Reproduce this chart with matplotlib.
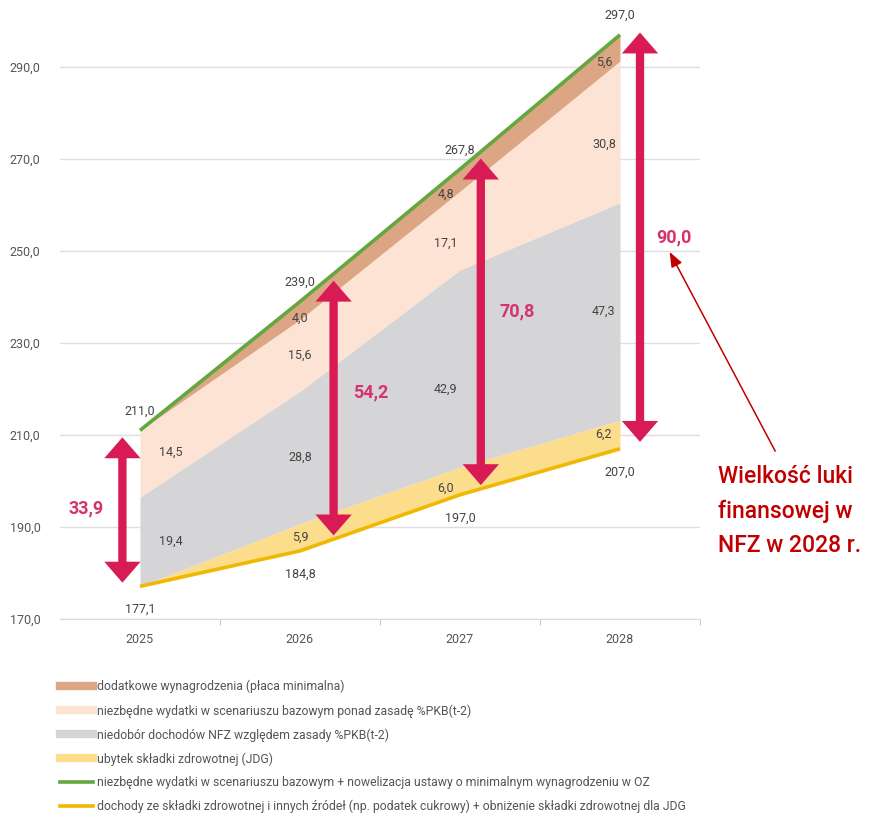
import matplotlib
matplotlib.use("Agg")
import matplotlib.pyplot as plt
import numpy as np
from matplotlib.lines import Line2D

plt.rcParams['font.family'] = ['Roboto', 'DejaVu Sans']

# ---- data ----
years = [2025, 2026, 2027, 2028]
revenue = [177.1, 184.8, 197.0, 207.0]          # yellow line
jdg_loss = [0.0, 5.9, 6.0, 6.2]                  # yellow band
deficit = [19.4, 28.8, 42.9, 47.3]               # grey band
above_rule = [14.5, 15.6, 17.1, 30.8]            # peach band
min_wage = [0.0, 4.0, 4.8, 5.6]                  # brown band
expenditure = [211.0, 239.0, 267.8, 297.0]       # green line
gap = [33.9, 54.2, 70.8, 90.0]
y_ticks = [170, 190, 210, 230, 250, 270, 290]
legend_labels = [
    "dodatkowe wynagrodzenia (płaca minimalna)",
    "niezbędne wydatki w scenariuszu bazowym ponad zasadę %PKB(t-2)",
    "niedobór dochodów NFZ względem zasady %PKB(t-2)",
    "ubytek składki zdrowotnej (JDG)",
    "niezbędne wydatki w scenariuszu bazowym + nowelizacja ustawy o minimalnym wynagrodzeniu w OZ",
    "dochody ze składki zdrowotnej i innych źródeł (np. podatek cukrowy) + obniżenie składki zdrowotnej dla JDG",
]
note = "Wielkość luki\nfinansowej w\nNFZ w 2028 r."

# ---- styles ----
c_brown = "#dca584"
c_peach = "#fde3d3"
c_grey = "#d5d4d7"
c_yellow_fill = "#fbdd8c"
c_green = "#62a83e"
c_yellow = "#f0b800"
c_arrow = "#d81b55"
c_gaplabel = "#d6336c"
c_note = "#c00000"
c_text = "#555555"

fig = plt.figure(figsize=(8.7, 8.17), dpi=100)
ax = fig.add_axes([60/870, (817-619)/817, 640/870, (619-21)/817])

x = np.array(years, dtype=float)
rev = np.array(revenue)
b1 = rev + np.array(jdg_loss)
b2 = b1 + np.array(deficit)
b3 = b2 + np.array(above_rule)
b4 = b3 + np.array(min_wage)

ax.fill_between(x, rev, b1, color=c_yellow_fill, lw=0, zorder=2)
ax.fill_between(x, b1, b2, color=c_grey, lw=0, zorder=2)
ax.fill_between(x, b2, b3, color=c_peach, lw=0, zorder=2)
ax.fill_between(x, b3, b4, color=c_brown, lw=0, zorder=2)
ax.plot(x, expenditure, color=c_green, lw=2.6, zorder=4, solid_capstyle='butt')
ax.plot(x, revenue, color=c_yellow, lw=2.6, zorder=4, solid_capstyle='butt')

ax.set_xlim(2024.5, 2028.5)
ax.set_ylim(170, 300)
ax.set_yticks(y_ticks)
ax.set_yticklabels([f"{v:.1f}".replace(".", ",") for v in y_ticks])
ax.set_xticks(years)
ax.set_xticklabels([str(y) for y in years])
ax.set_xticks([2025.5, 2026.5, 2027.5, 2028.5], minor=True)
ax.tick_params(axis='y', length=0, pad=14, labelsize=9, labelcolor=c_text)
ax.tick_params(axis='x', which='major', length=0, pad=10, labelsize=9, labelcolor=c_text)
ax.tick_params(axis='x', which='minor', length=4, color="#cccccc", width=0.8)
for s in ['top', 'right', 'left']:
    ax.spines[s].set_visible(False)
ax.spines['bottom'].set_color("#d9d9d9")
ax.grid(axis='y', color="#dedede", lw=1.0, zorder=0)
ax.set_axisbelow(True)

# ---- value labels ----
lab_kw = dict(fontsize=9, color="#444444", ha='center', va='center', zorder=6)
def fmt(v):
    return f"{v:.1f}".replace(".", ",")

band_dx = [0.19, 0.0, -0.09, -0.1]
for i, yr in enumerate(years):
    ax.text(yr, expenditure[i] + 4.2, fmt(expenditure[i]), **lab_kw)
    ax.text(yr, revenue[i] - 5.0, fmt(revenue[i]), **lab_kw)
    dx = band_dx[i]
    mids = [((rev[i] + b1[i]) / 2, jdg_loss[i]),
            ((b1[i] + b2[i]) / 2, deficit[i]),
            ((b2[i] + b3[i]) / 2, above_rule[i]),
            ((b3[i] + b4[i]) / 2, min_wage[i])]
    for k, (ym, v) in enumerate(mids):
        if v == 0:
            continue
        off = 0.0
        if k == 1 and i == 2:
            off = -4.5
        if k == 2 and i in (0,):
            off = 2.5
        if k == 2 and i in (2, 3):
            off = -2.8
        if k == 3:
            off = -1.8 if i < 2 else -3.0
        if k == 0 and i == 2:
            off = -1.5
        ax.text(yr + dx, ym + off, fmt(v), **lab_kw)

# ---- gap arrows ----
arrow_x = [2024.89, 2026.21, 2027.13, 2028.125]
lab_x = [2024.66, 2026.44, 2027.36, 2028.34]
for i in range(4):
    xa = arrow_x[i]
    lo = np.interp(xa, x, revenue) + 0.8
    hi = np.interp(xa, x, expenditure) - 1.5
    if i == 3:
        hi = expenditure[i] + 0.5
        lo = revenue[i] + 1.5
    ax.annotate("", xy=(xa, hi), xytext=(xa, lo),
                arrowprops=dict(arrowstyle="<|-|>,head_length=0.75,head_width=0.65",
                                color=c_arrow, lw=6, shrinkA=0, shrinkB=0,
                                joinstyle='miter', capstyle='butt'),
                zorder=7, annotation_clip=False)
    ym = (np.interp(xa, x, revenue) + np.interp(xa, x, expenditure)) / 2
    ax.text(lab_x[i], ym + [0, 3, 2, 1][i], fmt(gap[i]), fontsize=13, fontweight='bold',
            color=c_gaplabel, ha='center', va='center', zorder=8)

# ---- note ----
ax.annotate("", xy=(2028.31, 249.8), xytext=(2028.97, 206.5),
            arrowprops=dict(arrowstyle="-|>,head_length=0.9,head_width=0.35",
                            color=c_note, lw=1.1, shrinkA=0, shrinkB=0),
            annotation_clip=False, zorder=8)
fig.text(718/870, 1 - 465/817, note, fontsize=16.5, fontweight='medium', color=c_note,
         ha='left', va='top', linespacing=1.63)

# ---- legend ----
handles = [
    Line2D([], [], color=c_brown, lw=6),
    Line2D([], [], color=c_peach, lw=6),
    Line2D([], [], color=c_grey, lw=6),
    Line2D([], [], color=c_yellow_fill, lw=6),
    Line2D([], [], color=c_green, lw=2.6),
    Line2D([], [], color=c_yellow, lw=2.6),
]
leg = fig.legend(handles, legend_labels, loc='upper left',
                 bbox_to_anchor=(60/870, 1 - 680/817), frameon=False,
                 fontsize=8.8, handlelength=2.7, handletextpad=0.3,
                 labelspacing=0.87, borderaxespad=0, borderpad=0)
for t in leg.get_texts():
    t.set_color("#555555")

fig.savefig("out.png", dpi=100)
